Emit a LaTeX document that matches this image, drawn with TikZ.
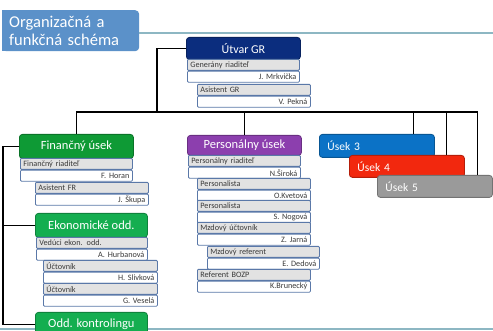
\documentclass[tikz,border=0pt]{standalone}
\usepackage{fontspec}
\setmainfont{Carlito}
\usetikzlibrary{positioning}

\definecolor{titleblue}{HTML}{5B91C9}
\definecolor{ruleteal}{HTML}{8DB7C3}
\definecolor{navy}{HTML}{0B2D7E}
\definecolor{fingreen}{HTML}{0E9A35}
\definecolor{ekogreen}{HTML}{14AE50}
\definecolor{perpurple}{HTML}{8C3FAE}
\definecolor{blue3}{HTML}{0B72C6}
\definecolor{red4}{HTML}{F2280E}
\definecolor{gray5}{HTML}{9A9A9A}
\definecolor{rowline}{HTML}{5A78A8}
\definecolor{rowgray}{HTML}{E2E2E2}
\definecolor{rowtext}{HTML}{3A3A3A}

\tikzset{
  hdr/.style={draw=#1!75!black, fill=#1, rounded corners=3pt, text=white,
    font=\fontsize{12.5}{14}\selectfont, anchor=north west, inner sep=0pt, line width=0.8pt},
  usek/.style={hdr=#1, text width=99pt, align=left, inner xsep=8pt, minimum height=22pt,
    font=\fontsize{11.5}{13}\selectfont},
  role/.style={draw=rowline, fill=rowgray, text width=#1pt, align=left, minimum height=11pt,
    inner xsep=3pt, inner ysep=0pt, rounded corners=1pt, line width=0.8pt,
    font=\fontsize{8.2}{9}\selectfont, text=rowtext, anchor=north west},
  conn/.style={draw=black, line width=1.2pt},
  rule/.style={draw=ruleteal, line width=1.2pt}
}

\begin{document}
\begin{tikzpicture}[x=1pt, y=-1pt]
\useasboundingbox (0,0) rectangle (493,331);
\clip (0,0) rectangle (493,331);

% title
\fill[titleblue] (2,10) rectangle (8,51);
\node[fill=titleblue, rounded corners=4pt, anchor=north west, minimum width=137pt, minimum height=41pt,
  text width=123pt, inner xsep=7pt, align=left, text=white, font=\fontsize{16.5}{18}\selectfont] (title) at (2,10)
  {Organizačná a\\funkčná schéma};
\draw[rule] (139,33) -- (493,33);
\draw[rule] (0,329) -- (493,329);

% headers
\node[hdr=navy, minimum width=114pt, minimum height=22pt, font=\fontsize{12}{14}\selectfont] (gr) at (186,37) {Útvar GR};
\node[hdr=fingreen, minimum width=114pt, minimum height=24pt] (fin) at (19,134) {Finančný úsek};
\node[hdr=ekogreen, minimum width=112pt, minimum height=24pt] (eko) at (35,213) {Ekonomické odd.};
\node[hdr=ekogreen, minimum width=112pt, minimum height=24pt] (kon) at (35,312) {Odd. kontrolingu};
\node[hdr=perpurple, minimum width=114pt, minimum height=20pt] (per) at (187,135) {Personálny úsek};

\node[usek=blue3, minimum height=23pt] (u3) at (319,134) {Úsek 3};
\node[usek=red4] (u4) at (349,155) {Úsek 4};
\node[usek=gray5] (u5) at (377,175) {Úsek 5};

% role / person rows
\foreach \n/\x/\y/\tw/\r/\p in {
  grA/187/59/106/Generány riaditeľ/J. Mrkvička,
  grB/197/84/107/Asistent GR/V. Pekná,
  finA/20/158/106/Finančný riaditeľ/F. Horan,
  finB/35/182/107/Asistent FR/J. Škupa,
  ekoA/36/237/105/Vedúci ekon. odd./A. Hurbanová,
  ekoB/43/260/108/Účtovník/H. Slivková,
  ekoC/43/283/108/Účtovník/G. Veselá,
  perA/188/155/106/Personálny riaditeľ/N.Široká,
  perB/197/178/107/Personalista/O.Kvetová,
  perC/197/200/107/Personalista/S. Nogová,
  perD/197/222/107/Mzdový účtovník/Z. Jarná,
  perE/207/246/106/Mzdový referent/E. Dedová,
  perF/197/269/107/Referent BOZP/K.Brunecký}
{
  \node[role=\tw] (\n-r) at (\x,\y) {\r};
  \node[role=\tw, fill=white, align=right, below=0pt of \n-r] (\n-p) {\p};
}

% connectors
\coordinate (bus) at (157,112);
\draw[conn] (gr.west) -| (bus);
\draw[conn] (fin.north) |- (bus) -| ([xshift=-15pt]u5.north east);
\draw[conn] (per.north) -- (per.north |- bus);
\draw[conn] ([xshift=-21pt]u3.north east) coordinate (d3) -- (d3 |- bus);
\draw[conn] ([xshift=-18pt]u4.north east) coordinate (d4) -- (d4 |- bus);

\draw[conn] (fin.west) -- ++(-16,0) coordinate (fl) |- (kon.west);
\draw[conn] (eko.west) -- (eko.west -| fl);

\end{tikzpicture}
\end{document}
